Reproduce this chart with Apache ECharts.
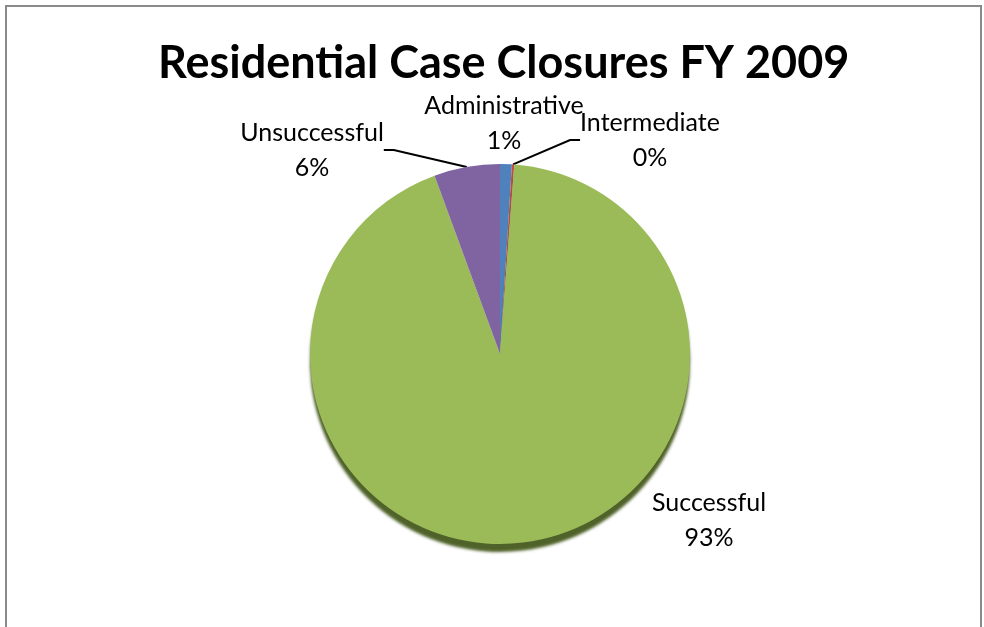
<!DOCTYPE html>
<html>
<head>
<meta charset="utf-8">
<script src="https://cdn.jsdelivr.net/npm/echarts@6/dist/echarts.min.js"></script>
<style>
html,body{margin:0;padding:0;background:#fff;}
#frame{position:absolute;left:5px;top:5px;width:973px;height:640px;border-top:2px solid #8a8a8a;border-left:2px solid #8a8a8a;border-right:2px solid #8a8a8a;}
#chart{position:absolute;left:0;top:0;width:984px;height:627px;}
</style>
</head>
<body>
<div id="frame"></div>
<div id="chart"></div>
<script>
const titleText = 'Residential Case Closures FY 2009';
const categories = ['Administrative', 'Intermediate', 'Successful', 'Unsuccessful'];
const values = [1.0, 0.2, 93.2, 5.6];
const colors = ['#4F81BD', '#C0504D', '#9BBB59', '#8064A2'];

const labelSpots = {
  Administrative: { x: 504, y: 123, line: false },
  Intermediate: { x: 650, y: 140, line: true },
  Successful: { x: 709, y: 520, line: false },
  Unsuccessful: { x: 312, y: 150, line: true }
};

const data = categories.map((c, i) => {
  const item = {
    name: c,
    value: values[i],
    itemStyle: { color: colors[i] },
    labelLine: { show: labelSpots[c].line }
  };
  if (c === 'Successful') {
    item.itemStyle.shadowColor = 'rgba(70,90,30,0.95)';
    item.itemStyle.shadowBlur = 3;
    item.itemStyle.shadowOffsetY = 8;
  }
  return item;
});

const chart = echarts.init(document.getElementById('chart'), null, { renderer: 'canvas' });
chart.setOption({
  animation: false,
  title: {
    text: titleText,
    left: 153,
    top: 36,
    textStyle: { fontFamily: 'Lato', fontWeight: 'bold', fontSize: 45, color: '#000' }
  },
  series: [{
    type: 'pie',
    center: [500, 354],
    radius: 190,
    startAngle: 90,
    clockwise: true,
    percentPrecision: 0,
    avoidLabelOverlap: false,
    itemStyle: { borderWidth: 0 },
    label: {
      show: true,
      position: 'outside',
      formatter: '{b}\n{d}%',
      fontFamily: 'Lato',
      fontSize: 25,
      lineHeight: 35,
      color: '#000',
      align: 'center'
    },
    labelLine: {
      show: true,
      length: 10,
      length2: 10,
      lineStyle: { color: '#000', width: 2 }
    },
    labelLayout: function (params) {
      const name = categories[params.dataIndex];
      const s = labelSpots[name];
      return { x: s.x, y: s.y, align: 'center', verticalAlign: 'middle' };
    },
    data: data
  }]
});
</script>
</body>
</html>
